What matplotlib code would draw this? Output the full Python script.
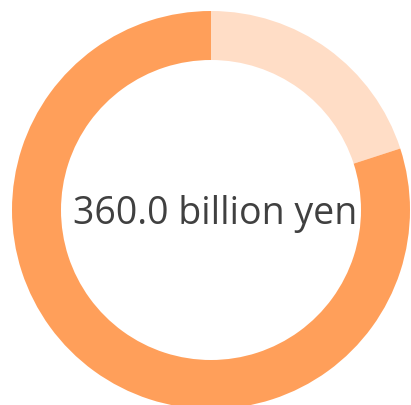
import matplotlib
matplotlib.use("Agg")
import matplotlib.pyplot as plt

# data
values = [72.0, 288.0]
colors = ["#FFDDC6", "#FF9F5A"]
total_label = "360.0 billion yen"

W, H = 411, 405
fig = plt.figure(figsize=(W / 100, H / 100), dpi=100)
ax = fig.add_axes([0, 0, 1, 1])

ax.pie(values, colors=colors, startangle=90, counterclock=False,
       center=(211, H - 210), radius=199,
       wedgeprops=dict(width=49, linewidth=0))

ax.text(215, H - 214, total_label, ha="center", va="center",
        fontsize=27, color="#404040", family=["Open Sans", "DejaVu Sans"])

ax.set_xlim(0, W)
ax.set_ylim(0, H)
ax.axis("off")
fig.savefig("out.png", dpi=100)
